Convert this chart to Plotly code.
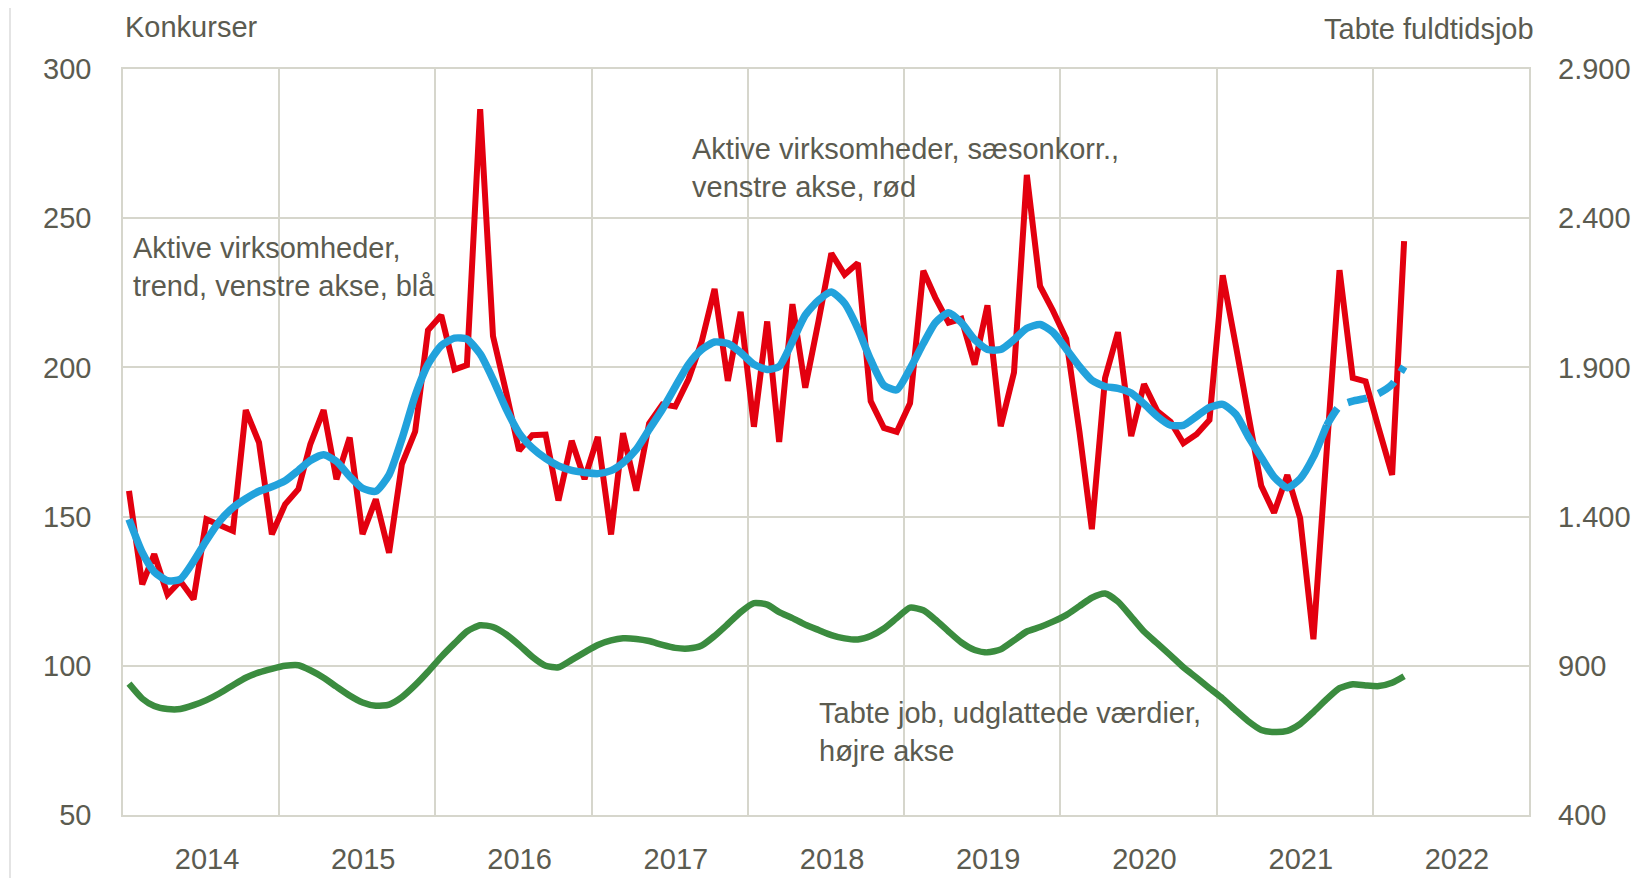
import pandas as pd
import plotly.graph_objects as go

# ---- data (monthly, Jan 2014 - Mar 2022) ----
red_seasonal = [158.6, 127.3, 137.4, 123.9, 128.4, 122.3, 149.1, 147.4, 145.2, 185.7,
                174.8, 144.1, 154.1, 159.2, 174.3, 185.7, 162.5, 176.5, 144.1, 155.8,
                137.9, 167.6, 178.5, 212.4, 217.5, 199.3, 200.8, 286.5, 210.5, 191.5,
                172.1, 177.3, 177.5, 155.4, 175.4, 162.6, 176.7, 144.0, 178.0, 158.7,
                181.2, 187.6, 186.9, 196.0, 208.7, 226.3, 195.5, 218.6, 180.1, 215.4,
                175.0, 221.2, 193.2, 215.5, 238.2, 231.1, 235.0, 188.7, 179.7, 178.4,
                188.0, 232.4, 223.4, 215.0, 216.3, 200.9, 220.8, 180.3, 198.3, 264.5,
                227.2, 219.0, 209.6, 178.5, 145.8, 196.5, 211.8, 177.0, 194.4, 185.4,
                181.8, 174.6, 177.6, 182.4, 230.9, 207.0, 184.2, 160.3, 151.3, 163.9,
                149.5, 108.9, 172.0, 232.6, 196.5, 195.3, 179.4, 164.0, 242.3]

blue_trend = [149.1, 138.0, 131.5, 128.5, 129.0, 135.0, 142.0, 148.5, 153.0, 156.0,
              158.5, 160.0, 162.0, 165.5, 168.8, 170.7, 168.5, 163.5, 159.5, 158.5,
              164.0, 176.0, 190.5, 201.0, 207.3, 209.8, 209.5, 204.5, 196.0, 186.0,
              178.0, 173.0, 169.5, 167.0, 165.5, 164.8, 164.4, 165.4, 168.0, 172.5,
              179.2, 186.0, 193.5, 201.0, 206.0, 208.5, 208.0, 205.0, 201.0, 199.3,
              200.3, 208.7, 217.5, 222.5, 225.3, 221.5, 213.0, 202.5, 194.0, 192.5,
              199.6, 208.0, 215.0, 218.3, 215.0, 209.3, 206.0, 206.0, 209.3, 213.1,
              214.4, 211.8, 206.2, 200.3, 195.7, 193.6, 193.0, 191.4, 187.8, 183.6,
              180.6, 180.6, 183.6, 186.6, 187.6, 184.2, 177.0, 169.9, 163.3, 159.7,
              162.7, 170.0, 180.6, 187.0, 188.7, 189.6, 191.3, 194.3, 200.3]
TREND_SOLID_END = 92  # last month of the solid trend; the rest is dashed (preliminary)

green_jobs = [840, 790, 765, 755, 755, 768, 785, 808, 835, 860,
              878, 890, 900, 902, 885, 860, 830, 800, 777, 766,
              770, 795, 835, 880, 930, 975, 1015, 1036, 1030, 1005,
              970, 930, 900, 895, 920, 945, 970, 985, 992, 990,
              983, 970, 960, 958, 968, 1000, 1040, 1080, 1110, 1105,
              1080, 1060, 1038, 1020, 1003, 992, 988, 1000, 1025, 1060,
              1095, 1086, 1055, 1015, 978, 953, 945, 955, 985, 1015,
              1030, 1048, 1070, 1100, 1128, 1142, 1115, 1065, 1015, 975,
              935, 895, 860, 825, 790, 750, 715, 685, 678, 682,
              705, 745, 788, 825, 838, 834, 832, 843, 865]

months = [(d + pd.Timedelta(days=14)).strftime("%Y-%m-%d")
          for d in pd.date_range("2014-01-01", periods=len(red_seasonal), freq="MS")]

left_ticks = [50, 100, 150, 200, 250, 300]
right_ticks = [400, 900, 1400, 1900, 2400, 2900]

# ---- styling ----
RED = "#e3000f"
BLUE = "#22a2dc"
GREEN = "#3b8c3f"
GRID = "#d6d6cc"
TXT = "#5b5b50"
FONT = "Liberation Sans, Arial, sans-serif"

# the page body has an 8px margin; build the figure so it sits inside the window
OFF = 8
W, H = 1624, 870
PLOT_L, PLOT_R, PLOT_T, PLOT_B = 123, 1529, 69, 815  # target page pixels
L = PLOT_L - OFF
R = (OFF + W) - PLOT_R
T = PLOT_T - OFF
B = (OFF + H) - PLOT_B
pw, ph = PLOT_R - PLOT_L, PLOT_B - PLOT_T


def px_x(px):
    return (px - PLOT_L) / pw


def px_y(py):
    return (PLOT_B - py) / ph


fig = go.Figure()

fig.add_trace(go.Scatter(x=months, y=green_jobs, yaxis="y2", mode="lines",
                         line=dict(color=GREEN, width=6.5, shape="spline", smoothing=0.6),
                         hoverinfo="skip"))
fig.add_trace(go.Scatter(x=months, y=red_seasonal, mode="lines",
                         line=dict(color=RED, width=6), hoverinfo="skip"))
fig.add_trace(go.Scatter(x=months[:TREND_SOLID_END + 1], y=blue_trend[:TREND_SOLID_END + 1],
                         mode="lines",
                         line=dict(color=BLUE, width=7.5, shape="spline", smoothing=0.6),
                         hoverinfo="skip"))
fig.add_trace(go.Scatter(x=months[TREND_SOLID_END:], y=blue_trend[TREND_SOLID_END:],
                         mode="lines",
                         line=dict(color=BLUE, width=7.5, dash="20px,12px", shape="spline",
                                   smoothing=0.6),
                         hoverinfo="skip"))

axis_common = dict(showgrid=True, gridcolor=GRID, gridwidth=1.5, zeroline=False,
                   showline=True, linecolor=GRID, linewidth=1.5, automargin=False,
                   tickfont=dict(family=FONT, size=29, color=TXT), ticks="")

fig.update_layout(
    width=W, height=H,
    margin=dict(l=L, r=R, t=T, b=B, pad=0, autoexpand=False),
    paper_bgcolor="white", plot_bgcolor="white",
    showlegend=False,
    separators=",.",
    font=dict(family=FONT, size=29, color=TXT),
    xaxis=dict(type="date", range=["2014-01-01", "2023-01-01"], tick0="2014-01-01",
               dtick="M12", tickformat="%Y", ticklabelmode="period",
               ticklabelshift=6, ticklabelstandoff=17, mirror=True, **axis_common),
    yaxis=dict(range=[50, 300], tickvals=left_ticks, ticklabelstandoff=24,
               mirror=True, **axis_common),
    yaxis2=dict(range=[400, 2900], tickvals=right_ticks, tickformat=",d",
                overlaying="y", side="right", showgrid=False, zeroline=False,
                showline=False, ticks="", ticklabelstandoff=28, automargin=False,
                tickfont=dict(family=FONT, size=29, color=TXT)),
)

ann = dict(xref="paper", yref="paper", showarrow=False,
           font=dict(family=FONT, size=29, color=TXT), align="left")
fig.add_annotation(x=px_x(123), y=px_y(27), text="Konkurser", xanchor="left",
                   yanchor="middle", **ann)
fig.add_annotation(x=px_x(1536), y=px_y(29), text="Tabte fuldtidsjob", xanchor="right",
                   yanchor="middle", **ann)
fig.add_annotation(x=px_x(131), y=px_y(267),
                   text="Aktive virksomheder,<br>trend, venstre akse, blå",
                   xanchor="left", yanchor="middle", **ann)
fig.add_annotation(x=px_x(690), y=px_y(168),
                   text="Aktive virksomheder, sæsonkorr.,<br>venstre akse, rød",
                   xanchor="left", yanchor="middle", **ann)
fig.add_annotation(x=px_x(817), y=px_y(732),
                   text="Tabte job, udglattede værdier,<br>højre akse",
                   xanchor="left", yanchor="middle", **ann)

# faint left frame line of the picture
fig.add_shape(type="line", xref="paper", yref="paper", layer="below",
              x0=px_x(10), x1=px_x(10), y0=px_y(878), y1=px_y(8),
              line=dict(color="#e4e4e4", width=2))

fig.write_html("out.html", config={"displayModeBar": False})
